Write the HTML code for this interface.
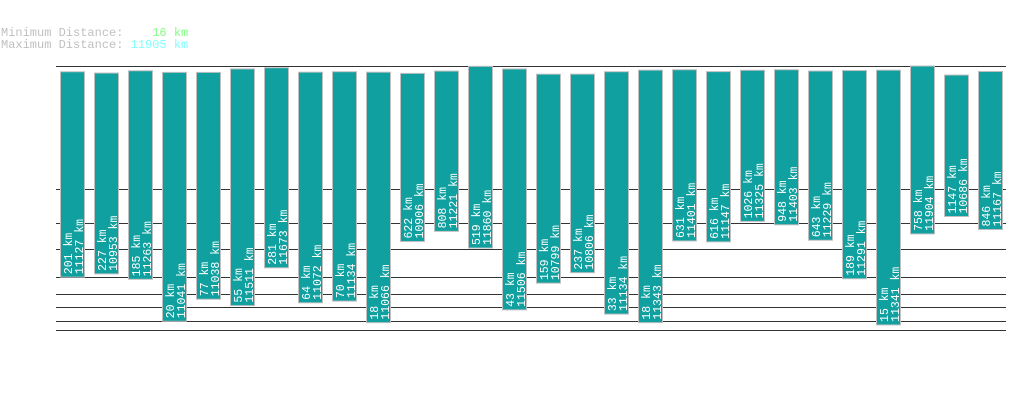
<!DOCTYPE html>
<html><head><meta charset="utf-8"><style>
html,body{margin:0;padding:0;background:#fff;}
svg{display:block;font-family:"Liberation Mono","DejaVu Sans Mono",monospace;}
</style></head><body>
<svg id="c" width="1019" height="402" viewBox="0 0 1019 402">
<text x="1" y="36" font-size="12" fill="#c0c0c0" xml:space="preserve">Minimum Distance:    <tspan fill="#80ff80">16 km</tspan></text>
<text x="1" y="48" font-size="12" fill="#c0c0c0" xml:space="preserve">Maximum Distance: <tspan fill="#80ffff">11905 km</tspan></text>
<g id="grid"></g><g id="bars"></g>
</svg>
<script>
const minDist=[201,227,185,20,77,55,281,64,70,18,622,808,519,43,159,237,33,18,631,616,1026,948,643,189,15,758,1147,846];
const maxDist=[11127,10953,11263,11041,11038,11511,11673,11072,11134,11066,10906,11221,11860,11506,10799,10806,11134,11343,11401,11147,11325,11403,11229,11291,11341,11904,10686,11167];
const gridTicks=[10,20,50,100,200,500,1000,2000];
const NS='http://www.w3.org/2000/svg';
const yMin=m=>365.5-18*Math.pow(m,0.3);
const yMax=v=>66+(11905-v)*0.0074;
const xC=i=>72+i*34;
const grid=document.getElementById('grid'),bars=document.getElementById('bars');
function line(y,name){const l=document.createElementNS(NS,'line');
l.setAttribute('x1',56);l.setAttribute('x2',1006);l.setAttribute('y1',y);l.setAttribute('y2',y);
l.setAttribute('stroke','#333');l.setAttribute('stroke-width','1');


grid.appendChild(l);}
line(66.5,'top-gridline');
gridTicks.forEach(t=>line(Math.round(yMin(t))+0.5,'gridline-'+t));
minDist.forEach((m,i)=>{
 const g=document.createElementNS(NS,'g');
 
 
 const top=yMax(maxDist[i]),bot=yMin(m),cx=xC(i);
 const r=document.createElementNS(NS,'rect');
 r.setAttribute('x',cx-12+0.5);r.setAttribute('y',top);r.setAttribute('width',24);r.setAttribute('height',bot-top);
 r.setAttribute('fill','#10a0a0');r.setAttribute('stroke','#c0c0c0');r.setAttribute('stroke-width','1');
 
 
 g.appendChild(r);
 [[m+' km',cx],[maxDist[i]+' km',cx+11]].forEach((p,k)=>{
  const t=document.createElementNS(NS,'text');
  t.setAttribute('transform','translate('+p[1]+','+(bot-3)+') rotate(-90)');
  t.setAttribute('font-size','11.5');t.setAttribute('fill','#fff');
  t.textContent=p[0];
  
  
  g.appendChild(t);
 });
 bars.appendChild(g);
});
</script>
</body></html>
